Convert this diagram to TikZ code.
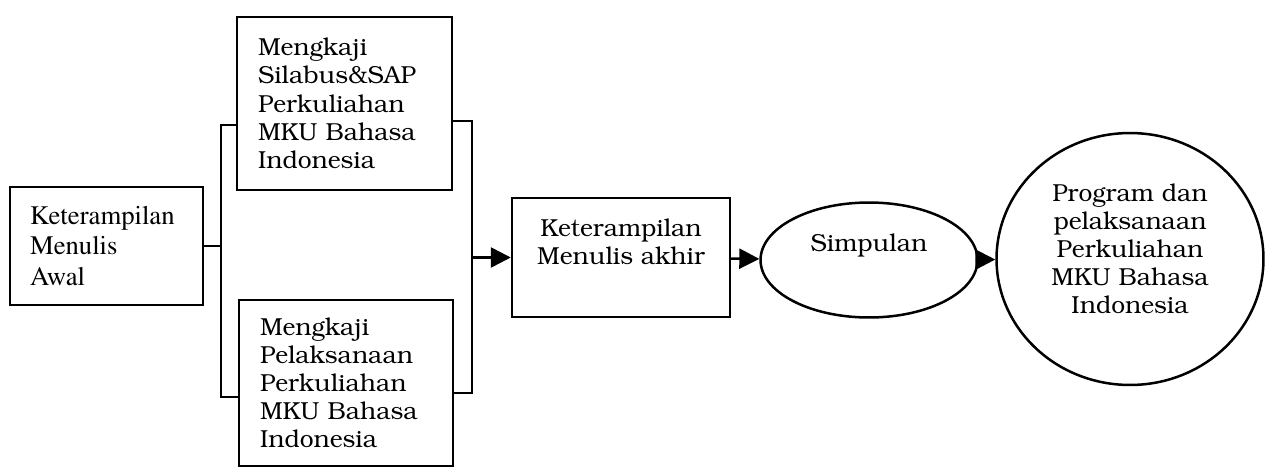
\documentclass[tikz,border=0pt]{standalone}
\usepackage[T1]{fontenc}
\usetikzlibrary{arrows.meta,shapes.geometric}
\newcommand{\bkfont}{\fontfamily{pbk}\fontsize{14}{16}\selectfont}
\newcommand{\tmfont}{\fontfamily{ptm}\fontsize{15.2}{17.6}\selectfont}
\newcommand{\lowpad}[1]{\rule[-#1]{0pt}{0pt}}

\begin{document}
\begin{tikzpicture}[x=0.02cm, y=-0.02cm, line width=0.5mm,
	box/.style={draw, rectangle, inner sep=0pt, align=left, font=\bkfont},
	arr/.style={-{Triangle[length=0.4cm, width=0.4cm]}}]
	%%%%% START %%%%%
	
	\useasboundingbox (0, 0) rectangle (1270, 470);
	
	\node[box, font=\tmfont, minimum width=3.86cm, minimum height=2.36cm, text width=3.06cm] (awal) at (106.5, 246) {Keterampilan\\Menulis\\Awal};
	
	\node[box, minimum width=4.3cm, minimum height=3.46cm, text width=3.46cm] (silabus) at (344.5, 103.5) {Mengkaji\\Silabus\&SAP\\Perkuliahan\\MKU Bahasa\\Indonesia};
	\node[box, minimum width=4.28cm, minimum height=3.32cm, text width=3.44cm] (laksana) at (346, 383) {Mengkaji\\Pelaksanaan\\Perkuliahan\\MKU Bahasa\\Indonesia};
	
	\node[box, align=center, minimum width=4.36cm, minimum height=2.38cm] (akhir) at (621, 257.5) {Keterampilan\\Menulis akhir\lowpad{0.62cm}};
	
	\node[draw, ellipse, inner sep=0pt, font=\bkfont, minimum width=4.34cm, minimum height=2.3cm] (simpul) at (869, 260) {Simpulan\lowpad{0.7cm}};
	\node[draw, ellipse, inner sep=0pt, align=center, font=\bkfont, minimum width=5.34cm, minimum height=5.04cm] (program) at (1130, 259) {Program dan\\pelaksanaan\\Perkuliahan\\MKU Bahasa\\Indonesia\lowpad{0.4cm}};
	
	% brackets
	\coordinate (lt) at (221, 125);
	\coordinate (lb) at (221, 397);
	\coordinate (rt) at (472, 121);
	\coordinate (rb) at (472, 393);
	
	\draw (awal.east) -- (awal.east -| lt);
	\draw (silabus.west |- lt) -- (lt) -- (lb) -- (laksana.west |- lb);
	\draw (silabus.east |- rt) -- (rt) -- (rb) -- (laksana.east |- rb);
	
	\draw[arr] (rt |- akhir.west) -- (akhir.west);
	\draw[arr] (akhir) -- (simpul);
	\draw[arr] (simpul) -- (program);
	
	%%%%% END %%%%%
\end{tikzpicture}
\end{document}
